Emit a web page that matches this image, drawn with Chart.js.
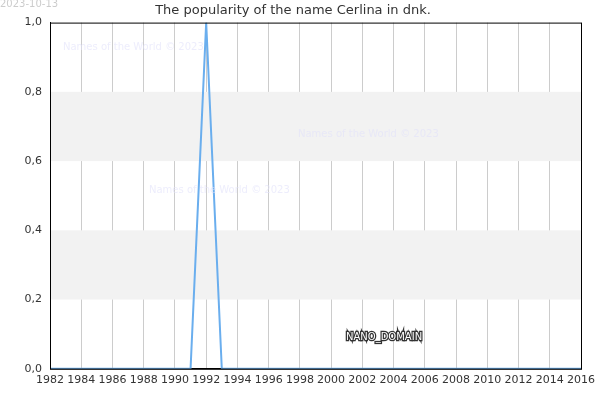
<!DOCTYPE html>
<html><head><meta charset="utf-8">
<script src="https://cdn.jsdelivr.net/npm/chart.js@4"></script>
<style>html,body{margin:0;padding:0;background:#fff}#w{width:600px;height:400px}</style>
</head><body><div id="w"><canvas id="c" width="600" height="400"></canvas></div>
<script>
const years = [];
for (let y = 1982; y <= 2016; y++) years.push(y);
const values = [0,0,0,0,0,0,0,0,0,0,1,0,0,0,0,0,0,0,0,0,0,0,0,0,0,0,0,0,0,0,0,0,0,0,0];
const titleText = 'The popularity of the name Cerlina in dnk.';
const dateText = '2023-10-13';
const watermark = 'Names of the World © 2023';

const deco = {
  id: 'deco',
  beforeDatasetsDraw(chart) {
    const {ctx, chartArea: a, scales: {y}} = chart;
    ctx.save();
    ctx.fillStyle = '#f2f2f2';
    [[0.2,0.4],[0.6,0.8]].forEach(([lo,hi]) => {
      ctx.fillRect(a.left, y.getPixelForValue(hi), a.right - a.left, y.getPixelForValue(lo) - y.getPixelForValue(hi));
    });
    ctx.restore();
  },
  afterDraw(chart) {
    const {ctx, chartArea: a} = chart;
    ctx.save();
    ctx.strokeStyle = '#000'; ctx.lineWidth = 1;
    ctx.strokeRect(a.left + 0.5, a.top + 0.5, a.right - a.left, a.bottom - a.top);
    ctx.font = '10px "DejaVu Sans"';
    ctx.fillStyle = 'rgba(225,225,250,0.6)';
    ctx.textBaseline = 'middle';
    ctx.fillText(watermark, 63, 47);
    ctx.fillText(watermark, 298, 134);
    ctx.fillText(watermark, 149, 190);
    ctx.fillStyle = '#ccc';
    ctx.textBaseline = 'top';
    ctx.fillText(dateText, 0, -1);
    ctx.font = '10px "DejaVu Sans"';
    ctx.textBaseline = 'middle';
    ctx.strokeStyle = '#333'; ctx.lineWidth = 2.5;
    ctx.strokeText('NANO_DOMAIN', 346, 337);
    ctx.fillStyle = '#fff';
    ctx.fillText('NANO_DOMAIN', 346, 337);
    ctx.restore();
  }
};

new Chart(document.getElementById('c'), {
  type: 'line',
  data: { datasets: [{ data: years.map((x,i) => ({x, y: values[i]})), borderColor: '#6aaeee', borderWidth: 2, pointRadius: 0, tension: 0 }] },
  options: {
    responsive: false, animation: false, devicePixelRatio: 1,
    layout: { padding: { left: 0, right: 14, top: 0, bottom: 8 } },
    plugins: {
      legend: { display: false }, tooltip: { enabled: false },
      title: { display: true, text: titleText, color: '#333', font: { family: 'DejaVu Sans', size: 13, weight: 'normal' }, padding: { top: 3, bottom: 4 } }
    },
    scales: {
      x: { type: 'linear', min: 1982, max: 2016,
        ticks: { stepSize: 2, color: '#333', font: { family: 'DejaVu Sans', size: 11 }, maxRotation: 0, autoSkip: false, callback: v => String(v), padding: 5 },
        grid: { color: '#ccc', drawTicks: false }, border: { color: '#000' } },
      y: { min: 0, max: 1,
        ticks: { stepSize: 0.2, color: '#333', font: { family: 'DejaVu Sans', size: 11 }, callback: v => v.toFixed(1).replace('.', ','), padding: 8 },
        grid: { display: false, drawTicks: false }, border: { color: '#000' },
        afterFit(s) { s.width = 50; } }
    }
  },
  plugins: [deco]
});
</script></body></html>
